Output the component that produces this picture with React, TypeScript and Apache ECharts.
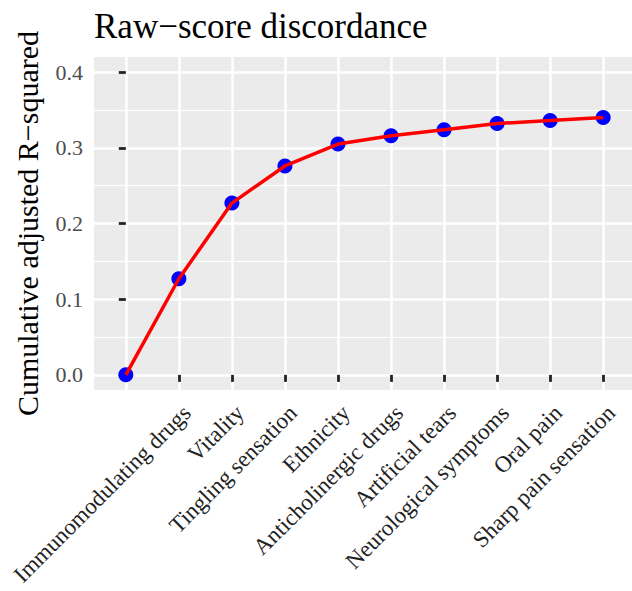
import React, { useEffect, useRef } from "react";
import * as echarts from "echarts";

const categories: string[] = [
  "",
  "Immunomodulating drugs",
  "Vitality",
  "Tingling sensation",
  "Ethnicity",
  "Anticholinergic drugs",
  "Artificial tears",
  "Neurological symptoms",
  "Oral pain",
  "Sharp pain sensation",
];
const values: number[] = [0, 0.127, 0.227, 0.276, 0.305, 0.316, 0.324, 0.332, 0.336, 0.34];
const yTicks: number[] = [0, 0.1, 0.2, 0.3, 0.4];
const titleText = "Raw\u2212score discordance";
const yName = "Cumulative adjusted R\u2212squared";

const FONT = "Liberation Serif";

export default function App() {
  const ref = useRef<HTMLDivElement>(null);
  useEffect(() => {
    if (!ref.current) return;
    const chart = echarts.init(ref.current, undefined, { renderer: "svg" });
    const xIdx = categories.map((_, i) => i);
    const pts = values.map((v, i) => [i, v]);
    chart.setOption({
      animation: false,
      backgroundColor: "#FFFFFF",
      title: {
        text: titleText,
        left: 89,
        top: 4,
        textStyle: { fontFamily: FONT, fontSize: 35, fontWeight: "normal", color: "#000" },
      },
      grid: {
        left: 94,
        top: 57,
        width: 541,
        height: 333,
        show: true,
        backgroundColor: "#EBEBEB",
        borderWidth: 0,
        containLabel: false,
        outerBoundsMode: "none",
      },
      xAxis: {
        type: "value",
        min: -0.6,
        max: 9.6,
        minInterval: 1,
        maxInterval: 1,
        axisLine: { show: false },
        axisTick: {
          show: true,
          customValues: xIdx,
          length: 7,
          lineStyle: { color: "#222222", width: 2.8 },
        },
        axisLabel: {
          customValues: xIdx,
          formatter: (v: number) => (Number.isInteger(v) ? categories[v] ?? "" : ""),
          rotate: 45,
          align: "right",
          verticalAlign: "top",
          margin: 11,
          fontFamily: FONT,
          fontSize: 23,
          color: "#222222",
          hideOverlap: false,
        },
        splitLine: { show: true, lineStyle: { color: "#FFFFFF", width: 2.5 } },
      },
      yAxis: {
        type: "value",
        min: -0.02,
        max: 0.42,
        name: yName,
        nameLocation: "middle",
        nameRotate: 90,
        nameGap: 52,
        nameTextStyle: { fontFamily: FONT, fontSize: 30, color: "#000" },
        axisLine: { show: false },
        axisTick: {
          show: true,
          customValues: yTicks,
          length: 7,
          lineStyle: { color: "#222222", width: 2.8 },
        },
        axisLabel: {
          customValues: yTicks,
          formatter: (v: number) => v.toFixed(1),
          margin: 11,
          fontFamily: FONT,
          fontSize: 22,
          color: "#4D4D4D",
        },
        splitLine: { show: true, lineStyle: { color: "#FFFFFF", width: 2.5 } },
        minorTick: { show: false, splitNumber: 2 },
        minorSplitLine: { show: true, lineStyle: { color: "#FFFFFF", width: 1.2 } },
      },
      series: [
        {
          type: "scatter",
          data: pts,
          symbolSize: 15,
          itemStyle: { color: "#0000FF", opacity: 1 },
          z: 2,
        },
        {
          type: "line",
          data: pts,
          showSymbol: false,
          lineStyle: { color: "#FF0000", width: 3.5 },
          z: 3,
        },
      ],
    });
    return () => chart.dispose();
  }, []);
  return (
    <div
      ref={ref}
      style={{ position: "fixed", left: 0, top: 0, width: 632, height: 591 }}
    />
  );
}
